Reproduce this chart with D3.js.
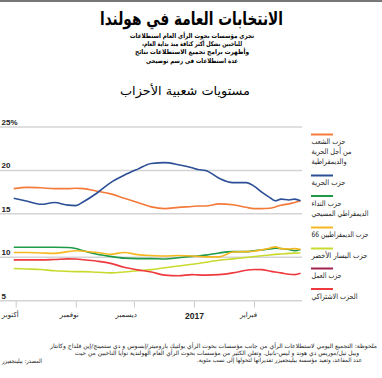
<!DOCTYPE html>
<html><head><meta charset="utf-8">
<script src="https://cdn.jsdelivr.net/npm/d3@7"></script>
<style>
html,body{margin:0;padding:0;background:#fff;}
svg{display:block;}
.ar{font-family:"DejaVu Sans",sans-serif;}
.num{font-family:"Liberation Sans",Arial,sans-serif;}
</style></head><body>
<svg id="c" width="382" height="378"></svg>
<script>
const dates = ["2016-09-30","2016-10-07","2016-10-14","2016-10-21","2016-10-28","2016-11-01","2016-11-05","2016-11-12","2016-11-19","2016-11-26","2016-12-03","2016-12-10","2016-12-17","2016-12-24","2016-12-31","2017-01-03","2017-01-07","2017-01-14","2017-01-21","2017-01-28","2017-02-01","2017-02-05","2017-02-09","2017-02-12","2017-02-15","2017-02-19","2017-02-22","2017-02-25"];
const vvd = [17.9,18.05,18.0,17.9,17.9,17.95,17.9,17.6,17.3,16.8,16.3,15.8,15.6,15.75,15.85,15.9,15.9,16.15,16.05,15.75,15.6,15.6,15.65,15.8,16.0,16.15,16.3,16.5];
const pvv = [16.8,16.45,16.1,16.3,16.0,15.95,16.4,17.4,18.6,19.45,20.15,20.8,20.9,20.65,20.3,20.1,20.0,19.1,18.6,18.6,18.2,17.5,16.9,16.5,16.7,16.6,16.7,16.5];
const cda = [11.15,11.15,11.15,11.15,11.12,11.0,10.75,10.35,10.1,9.9,9.85,9.85,9.8,9.95,10.1,10.15,10.25,10.5,10.65,10.65,10.75,10.85,10.95,11.05,11.0,10.9,10.75,10.9];
const d66 = [10.55,10.55,10.5,10.45,10.65,10.75,10.7,10.55,10.35,10.55,10.3,10.2,10.15,10.2,10.15,10.1,10.05,10.05,10.6,10.65,10.7,10.85,11.05,11.2,11.0,10.95,11.0,10.9];
const gl  = [8.7,8.65,8.6,8.45,8.38,8.35,8.35,8.28,8.2,8.3,8.45,8.58,8.8,9.0,9.2,9.28,9.42,9.65,9.82,9.98,10.08,10.18,10.27,10.33,10.38,10.45,10.48,10.5];
const sp  = [9.7,9.7,9.7,9.75,9.82,9.8,9.72,9.55,9.3,8.85,8.55,8.3,7.95,7.88,8.0,7.97,7.95,8.0,8.2,8.5,8.6,8.58,8.42,8.3,8.2,8.05,8.0,8.15];

const yTicks = [25,20,15,10,5];
const yTickLabels = ["25%","20","15","10","5"];
const xTickDates = ["2016-10-01","2016-11-01","2016-12-01","2017-01-01","2017-02-01"];
const xTickLabels = ["أكتوبر","نوفمبر","ديسمبر","2017","فبراير"];

const legendNames = [
  ["حزب الشعب","من أجل الحرية","والديمقراطية"],
  ["حزب الحرية"],
  ["حزب النداء","الديمقراطي المسيحي"],
  ["حزب الديمقراطيين 66"],
  ["حزب اليسار الأخضر"],
  ["حزب العمل"],
  ["الحزب الاشتراكي"]
];
const legendColors = ["#f47a3a","#2b4f96","#1e9a48","#f6b820","#c9da2e","#a3224d","#ee3a3f"];

const title = "الانتخابات العامة في هولندا";
const subtitle = ["تجري مؤسسات بحوث الرأي العام استطلاعات","للناخبين بشكل أكثر كثافة منذ بداية العام،","وأظهرت برامج تجميع الاستطلاعات نتائج","عدة استطلاعات في رسم توضيحي"];
const chartTitle = "مستويات شعبية الأحزاب";
const notes = ["ملحوظة: التجميع اليومي لاستطلاعات الرأي من جانب مؤسسات بحوث الرأي بولتيك باروميتر/إبسوس و دي ستمينج/إين فلداج وكانتار",
 "ويبل نيل/موريس دي هوند و ليس-بانيل. وتعلن الكثير من مؤسسات بحوث الرأي العام الهولندية نوايا الناخبين من حيث",
 "عدد المقاعد، وتعيد مؤسسة بيلينجفيزر تقديراتها لتحولها إلى نسب مئوية."];
const source = "المصدر: بيلينجفيزر";

// layout (widths of text runs in px)
const subtitleW = [124,100,114,92];
const legendW = [[34,40,35],[34],[30,57],[57],[56],[30],[46]];
const noteX = [377,359,362];
const noteW = [327,284,165];

const svg = d3.select("#c");
const parse = d3.utcParse("%Y-%m-%d");
function fit(sel,w){ return sel.attr("textLength",w).attr("lengthAdjust","spacingAndGlyphs"); }

svg.append("rect").attr("x",0).attr("y",0).attr("width",382).attr("height",2).attr("fill","#777");

// titles
fit(svg.append("text").attr("class","ar").attr("x",191.5).attr("y",24.5).attr("text-anchor","middle")
  .attr("font-size",18).attr("font-weight","bold").attr("direction","rtl").text(title),183);
subtitle.forEach((t,i)=>{
  fit(svg.append("text").attr("class","ar").attr("x",192).attr("y",38+i*8.2).attr("text-anchor","middle")
    .attr("font-size",6.5).attr("font-weight","bold").attr("direction","rtl").text(t),subtitleW[i]);
});
fit(svg.append("text").attr("class","ar").attr("x",185).attr("y",94.5).attr("text-anchor","middle")
  .attr("font-size",12).attr("direction","rtl").text(chartTitle),130);

const x = d3.scaleUtc().domain([parse("2016-10-01"),parse("2017-02-01")]).range([15.7,254]);
const y = d3.scaleLinear().domain([5,25]).range([300.7,127]);

// grid
const g = svg.append("g");
g.selectAll("line.grid").data(yTicks).join("line")
  .attr("x1",0).attr("x2",302).attr("y1",d=>y(d)).attr("y2",d=>y(d))
  .attr("stroke","#d4d4d4").attr("stroke-width",1.5);
g.selectAll("text.yl").data(yTicks).join("text").attr("class","num")
  .attr("x",1.5).attr("y",d=>y(d)-2).attr("font-size",8).attr("font-weight","bold").attr("fill","#222")
  .text((d,i)=>yTickLabels[i]);

// x axis
const xAxis = d3.axisBottom(x).tickValues(xTickDates.map(parse)).tickSize(6)
  .tickFormat((d,i)=>xTickLabels[i]);
const ax = svg.append("g").attr("transform","translate(0,301.5)").call(xAxis);
ax.select(".domain").remove();
ax.selectAll(".tick line").attr("stroke","#c8c8c8");
ax.selectAll(".tick text").attr("y",11).attr("dy","0.71em").attr("fill","#222")
  .attr("font-family",(d,i)=>i===3?"Liberation Sans, Arial, sans-serif":"DejaVu Sans, sans-serif")
  .attr("font-size",(d,i)=>i===3?8.5:7)
  .attr("font-weight",(d,i)=>i===3?"bold":"normal")
  .attr("direction","rtl")
  .attr("text-anchor",(d,i)=>i===3?"middle":"start")
  .attr("x",(d,i)=>i===3?0:2.5);

// lines
const series = [vvd,pvv,cda,d66,gl,sp];
const seriesColors = [legendColors[0],legendColors[1],legendColors[2],legendColors[3],legendColors[4],legendColors[6]];
const order = [4,5,2,3,0,1];
const line = d3.line().x((d,i)=>x(parse(dates[i]))).y(d=>y(d)).curve(d3.curveMonotoneX);
order.forEach(k=>{
  svg.append("path").datum(series[k]).attr("d",line).attr("fill","none")
    .attr("stroke",seriesColors[k]).attr("stroke-width",1.6).attr("stroke-linejoin","round");
});

// legend
const legY = [134.5,175.5,196,227.5,248.5,268.5,289];
legendNames.forEach((names,i)=>{
  svg.append("line").attr("x1",311).attr("x2",333).attr("y1",legY[i]).attr("y2",legY[i])
    .attr("stroke",legendColors[i]).attr("stroke-width",2);
  names.forEach((t,j)=>{
    fit(svg.append("text").attr("class","ar").attr("x",311.5).attr("y",legY[i]+9.5+j*10)
      .attr("font-size",7.5).attr("direction","rtl").attr("text-anchor","end").attr("fill","#222").text(t),legendW[i][j]);
  });
});

// notes
notes.forEach((t,i)=>{
  fit(svg.append("text").attr("class","ar").attr("x",noteX[i]).attr("y",347.5+i*7)
    .attr("font-size",6).attr("direction","rtl").attr("text-anchor","start").attr("fill","#222").text(t),noteW[i]);
});
fit(svg.append("text").attr("class","ar").attr("x",2).attr("y",363).attr("font-size",6)
  .attr("direction","rtl").attr("text-anchor","end").attr("fill","#222").text(source),40);
</script></body></html>
